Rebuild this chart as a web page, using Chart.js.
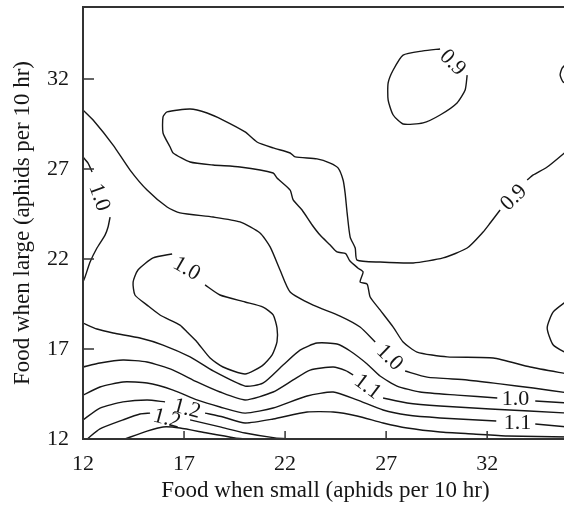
<!DOCTYPE html>
<html>
<head>
<meta charset="utf-8">
<script src="https://cdn.jsdelivr.net/npm/chart.js@4"></script>
<style>
  html, body { margin: 0; padding: 0; background: #fff; overflow: hidden; }
</style>
</head>
<body>
<canvas id="chart" width="580" height="506"></canvas>
<script>
// axis ticks
const xTicks = [12, 17, 22, 27, 32]
const yTicks = [12, 17, 22, 27, 32]

// contour lines, [food when small, food when large]
const c10Top = [[12,30.28],[12.5,29.72],[13.49,28.33],[14.33,26.94],[15.17,25.83],[16.16,24.89],[16.8,24.56],[18.44,24.33],[19.77,24.06],[20.76,23.44],[21.26,22.67],[21.75,21.39],[22.25,20.17],[23.39,19.44],[24.72,18.83],[25.71,18.22],[26.46,17.39]]
const c10TopB = [[27.94,15.78],[29.03,15.44],[31.01,15.28],[32.64,15.06],[34.28,14.83],[36,14.56]]

const c09EdgeA = [[36,28.06],[34.97,27.11],[34.28,26.67],[33.98,26.39]]
const c09Tongue = [[32.64,24.72],[32.15,24.0],[31.8,23.5],[31.01,22.61],[29.82,22.06],[28.34,21.78],[26.7,21.83],[25.56,21.94],[25.47,22.61],[25.22,23.22],[25.07,24.56],[24.97,25.67],[24.87,26.39],[24.62,27.06],[24.23,27.33],[23.58,27.56],[22.5,27.67],[22.25,27.89],[21.41,28.17],[20.61,28.5],[20.02,29.06],[18.93,29.72],[18.14,30.11],[17.3,30.33],[16.16,30.17],[15.96,29.89],[15.96,29.0],[16.31,28.22],[16.46,27.89],[17.3,27.39],[18.44,27.22],[19.77,27.11],[21.41,26.78],[21.6,26.5],[22.25,25.83],[22.4,25.28],[22.84,24.72],[23.34,23.89],[23.73,23.33],[24.23,22.78],[24.57,22.39],[25.0,22.3],[25.2,21.9],[25.6,21.5],[25.86,21.28],[25.71,20.72],[26.06,20.61],[26.21,19.89],[26.7,19.17],[27.35,18.22],[27.84,17.39],[28.53,16.83],[30.02,16.56],[32.3,16.5],[34.13,16.0],[36,15.61]]

const c09Loop = [[31.01,32.22],[30.91,31.39],[30.51,30.67],[29.67,30.0],[28.83,29.56],[27.84,29.5],[27.35,30.0],[27.1,30.83],[27.1,31.78],[27.35,32.5],[27.84,33.33],[28.83,33.56],[29.67,33.67]]
const edgeArcTop = [[36,32.94],[35.71,32.6],[35.61,32.22],[35.76,31.83],[36,31.72]]
const edgeArcMid = [[36,19.72],[35.27,19.06],[34.97,18.17],[35.27,17.22],[36,16.72]]

const c10Left = [[12,27.67],[12.25,27.33],[12.45,26.83]]
const c10LeftB = [[13.34,24.33],[13.24,23.78],[13.09,23.33],[12.69,22.61],[12.35,21.83],[12.1,21.0],[12,20.72]]

const c10Loop = [[18.04,20.56],[18.78,20.0],[20.02,19.61],[20.91,19.33],[21.41,18.89],[21.6,18.17],[21.6,17.39],[21.36,16.67],[20.86,16.06],[20.02,15.61],[18.93,16.0],[18.29,16.5],[17.64,17.39],[17.15,17.94],[16.8,18.33],[15.81,18.89],[15.17,19.44],[14.57,20.0],[14.48,20.72],[14.72,21.39],[15.47,22.06],[16.41,22.28]]

const c10Low = [[12,18.44],[12.69,18.11],[13.49,17.89],[14.82,17.61],[15.96,17.22],[17.3,16.56],[18.44,15.78],[20.02,14.94],[20.9,15.1],[21.9,16.11],[22.74,16.94],[23.58,17.33],[24.57,17.28],[25.22,16.89],[26.06,16.17],[26.7,15.5],[27.54,14.94],[28.68,14.61],[30.51,14.44],[32.5,14.28]]
const c10LowB = [[34.38,14.11],[36,14.0]]

const c11a = [[12,16.0],[12.84,16.22],[13.98,16.39],[15.17,16.28],[16.46,15.83],[17.64,15.17],[18.78,14.61],[20.02,14.17],[21.41,14.61],[22.4,15.28],[23.24,15.83],[24.38,16.0],[25.0,15.8],[25.37,15.56]]
const c11aB = [[26.85,14.28],[28.04,14.0],[29.67,13.83],[32.15,13.67],[36,13.44]]

const c11b = [[12,14.44],[12.84,14.89],[13.98,15.17],[15.17,15.11],[16.46,14.72],[17.64,14.17],[18.78,13.78],[20.02,13.44],[21.41,13.72],[23.09,14.39],[24.38,14.61],[25.56,14.17],[26.85,13.61],[28.04,13.33],[29.67,13.17],[32.45,13.0]]
const c11bB = [[34.38,12.83],[36,12.67]]

const c12a = [[12,13.06],[12.84,13.72],[13.98,14.06],[15.17,14.17],[16.06,14.06]]
const c12aB = [[18.04,13.44],[18.93,13.22],[20.02,12.89],[21.41,13.11],[23.09,13.5],[24.38,13.5],[25.56,13.28],[26.85,12.89],[28.04,12.61],[29.67,12.39],[31.31,12.28],[32.99,12.17],[36,12.11]]

const c12b = [[12.2,12.0],[12.84,12.56],[13.98,13.06],[14.82,13.39],[15.32,13.44]]
const c12bB = [[17.3,13.06],[18.78,12.67],[20.02,12.33],[21.5,12.06],[22.25,12.0]]

const c13 = [[14.08,12.0],[15.17,12.44],[15.96,12.67],[16.8,12.61],[18.14,12.33],[19.52,12.06],[20.02,12.0]]

// contour labels
const labelText = ['0.9', '0.9', '1.0', '1.0', '1.0', '1.1', '1.0', '1.1', '1.2', '1.2']
const labelX = [30.32, 33.29, 12.84, 17.15, 27.2, 26.11, 33.4, 33.5, 17.15, 16.16]
const labelY = [32.94, 25.44, 25.44, 21.5, 16.56, 14.94, 14.28, 12.94, 13.72, 13.17]
const labelAngle = [45, -45, 70, 30, 44, 37, 0, 0, 15, 15]

const lines = [c10Top, c10TopB, c09EdgeA, c09Tongue, c09Loop, edgeArcTop, edgeArcMid,
  c10Left, c10LeftB, c10Loop, c10Low, c10LowB, c11a, c11aB, c11b, c11bB,
  c12a, c12aB, c12b, c12bB, c13]

const serif = "'Liberation Serif', 'Times New Roman', serif"
const ink = '#161616'

const frame = {
  id: 'frame',
  afterDatasetsDraw(chart) {
    const { ctx, chartArea: a, scales: { x, y } } = chart
    ctx.save()
    ctx.strokeStyle = '#333'
    ctx.lineWidth = 2
    ctx.strokeRect(a.left, a.top, a.right - a.left, a.bottom - a.top)
    // inward tick marks
    ctx.lineWidth = 1.5
    ctx.beginPath()
    xTicks.forEach(v => {
      const px = x.getPixelForValue(v)
      ctx.moveTo(px, a.bottom)
      ctx.lineTo(px, a.bottom - 8)
    })
    yTicks.forEach(v => {
      const py = y.getPixelForValue(v)
      ctx.moveTo(a.left, py)
      ctx.lineTo(a.left + 11, py)
    })
    ctx.stroke()

    // contour labels
    ctx.fillStyle = ink
    ctx.font = '22px ' + serif
    ctx.textAlign = 'center'
    ctx.textBaseline = 'middle'
    labelText.forEach((t, i) => {
      ctx.save()
      ctx.translate(x.getPixelForValue(labelX[i]), y.getPixelForValue(labelY[i]))
      ctx.rotate(labelAngle[i] * Math.PI / 180)
      ctx.fillText(t, 0, 1)
      ctx.restore()
    })
    ctx.restore()
  }
}

new Chart(document.getElementById('chart'), {
  type: 'scatter',
  data: {
    datasets: lines.map(pts => ({
      data: pts.map(p => ({ x: p[0], y: p[1] })),
      showLine: true,
      pointRadius: 0,
      borderColor: ink,
      borderWidth: 1.4,
      tension: 0.2
    }))
  },
  options: {
    responsive: false,
    animation: false,
    layout: { padding: { top: 7, right: 12, left: 0, bottom: 0 } },
    plugins: { legend: { display: false }, tooltip: { enabled: false } },
    scales: {
      x: {
        type: 'linear',
        min: 12,
        max: 36,
        afterBuildTicks: s => { s.ticks = xTicks.map(v => ({ value: v })) },
        afterFit: s => { s.height = 67; s.paddingLeft = 0; s.paddingRight = 0 },
        grid: { drawOnChartArea: false, drawTicks: false },
        border: { display: false },
        ticks: { color: ink, padding: 12, font: { family: serif, size: 22 } },
        title: {
          display: true,
          text: 'Food when small (aphids per 10 hr)',
          color: ink,
          font: { family: serif, size: 23, lineHeight: 1 },
          padding: { top: 0, bottom: 4 }
        }
      },
      y: {
        type: 'linear',
        min: 12,
        max: 36,
        afterBuildTicks: s => { s.ticks = yTicks.map(v => ({ value: v })) },
        afterFit: s => { s.width = 83; s.paddingTop = 0; s.paddingBottom = 0 },
        grid: { drawOnChartArea: false, drawTicks: false },
        border: { display: false },
        ticks: { color: ink, padding: 14, font: { family: serif, size: 22 } },
        title: {
          display: true,
          text: 'Food when large (aphids per 10 hr)',
          color: ink,
          font: { family: serif, size: 23, lineHeight: 1 },
          padding: { top: 11, bottom: 0 }
        }
      }
    }
  },
  plugins: [frame]
})
</script>
</body>
</html>
